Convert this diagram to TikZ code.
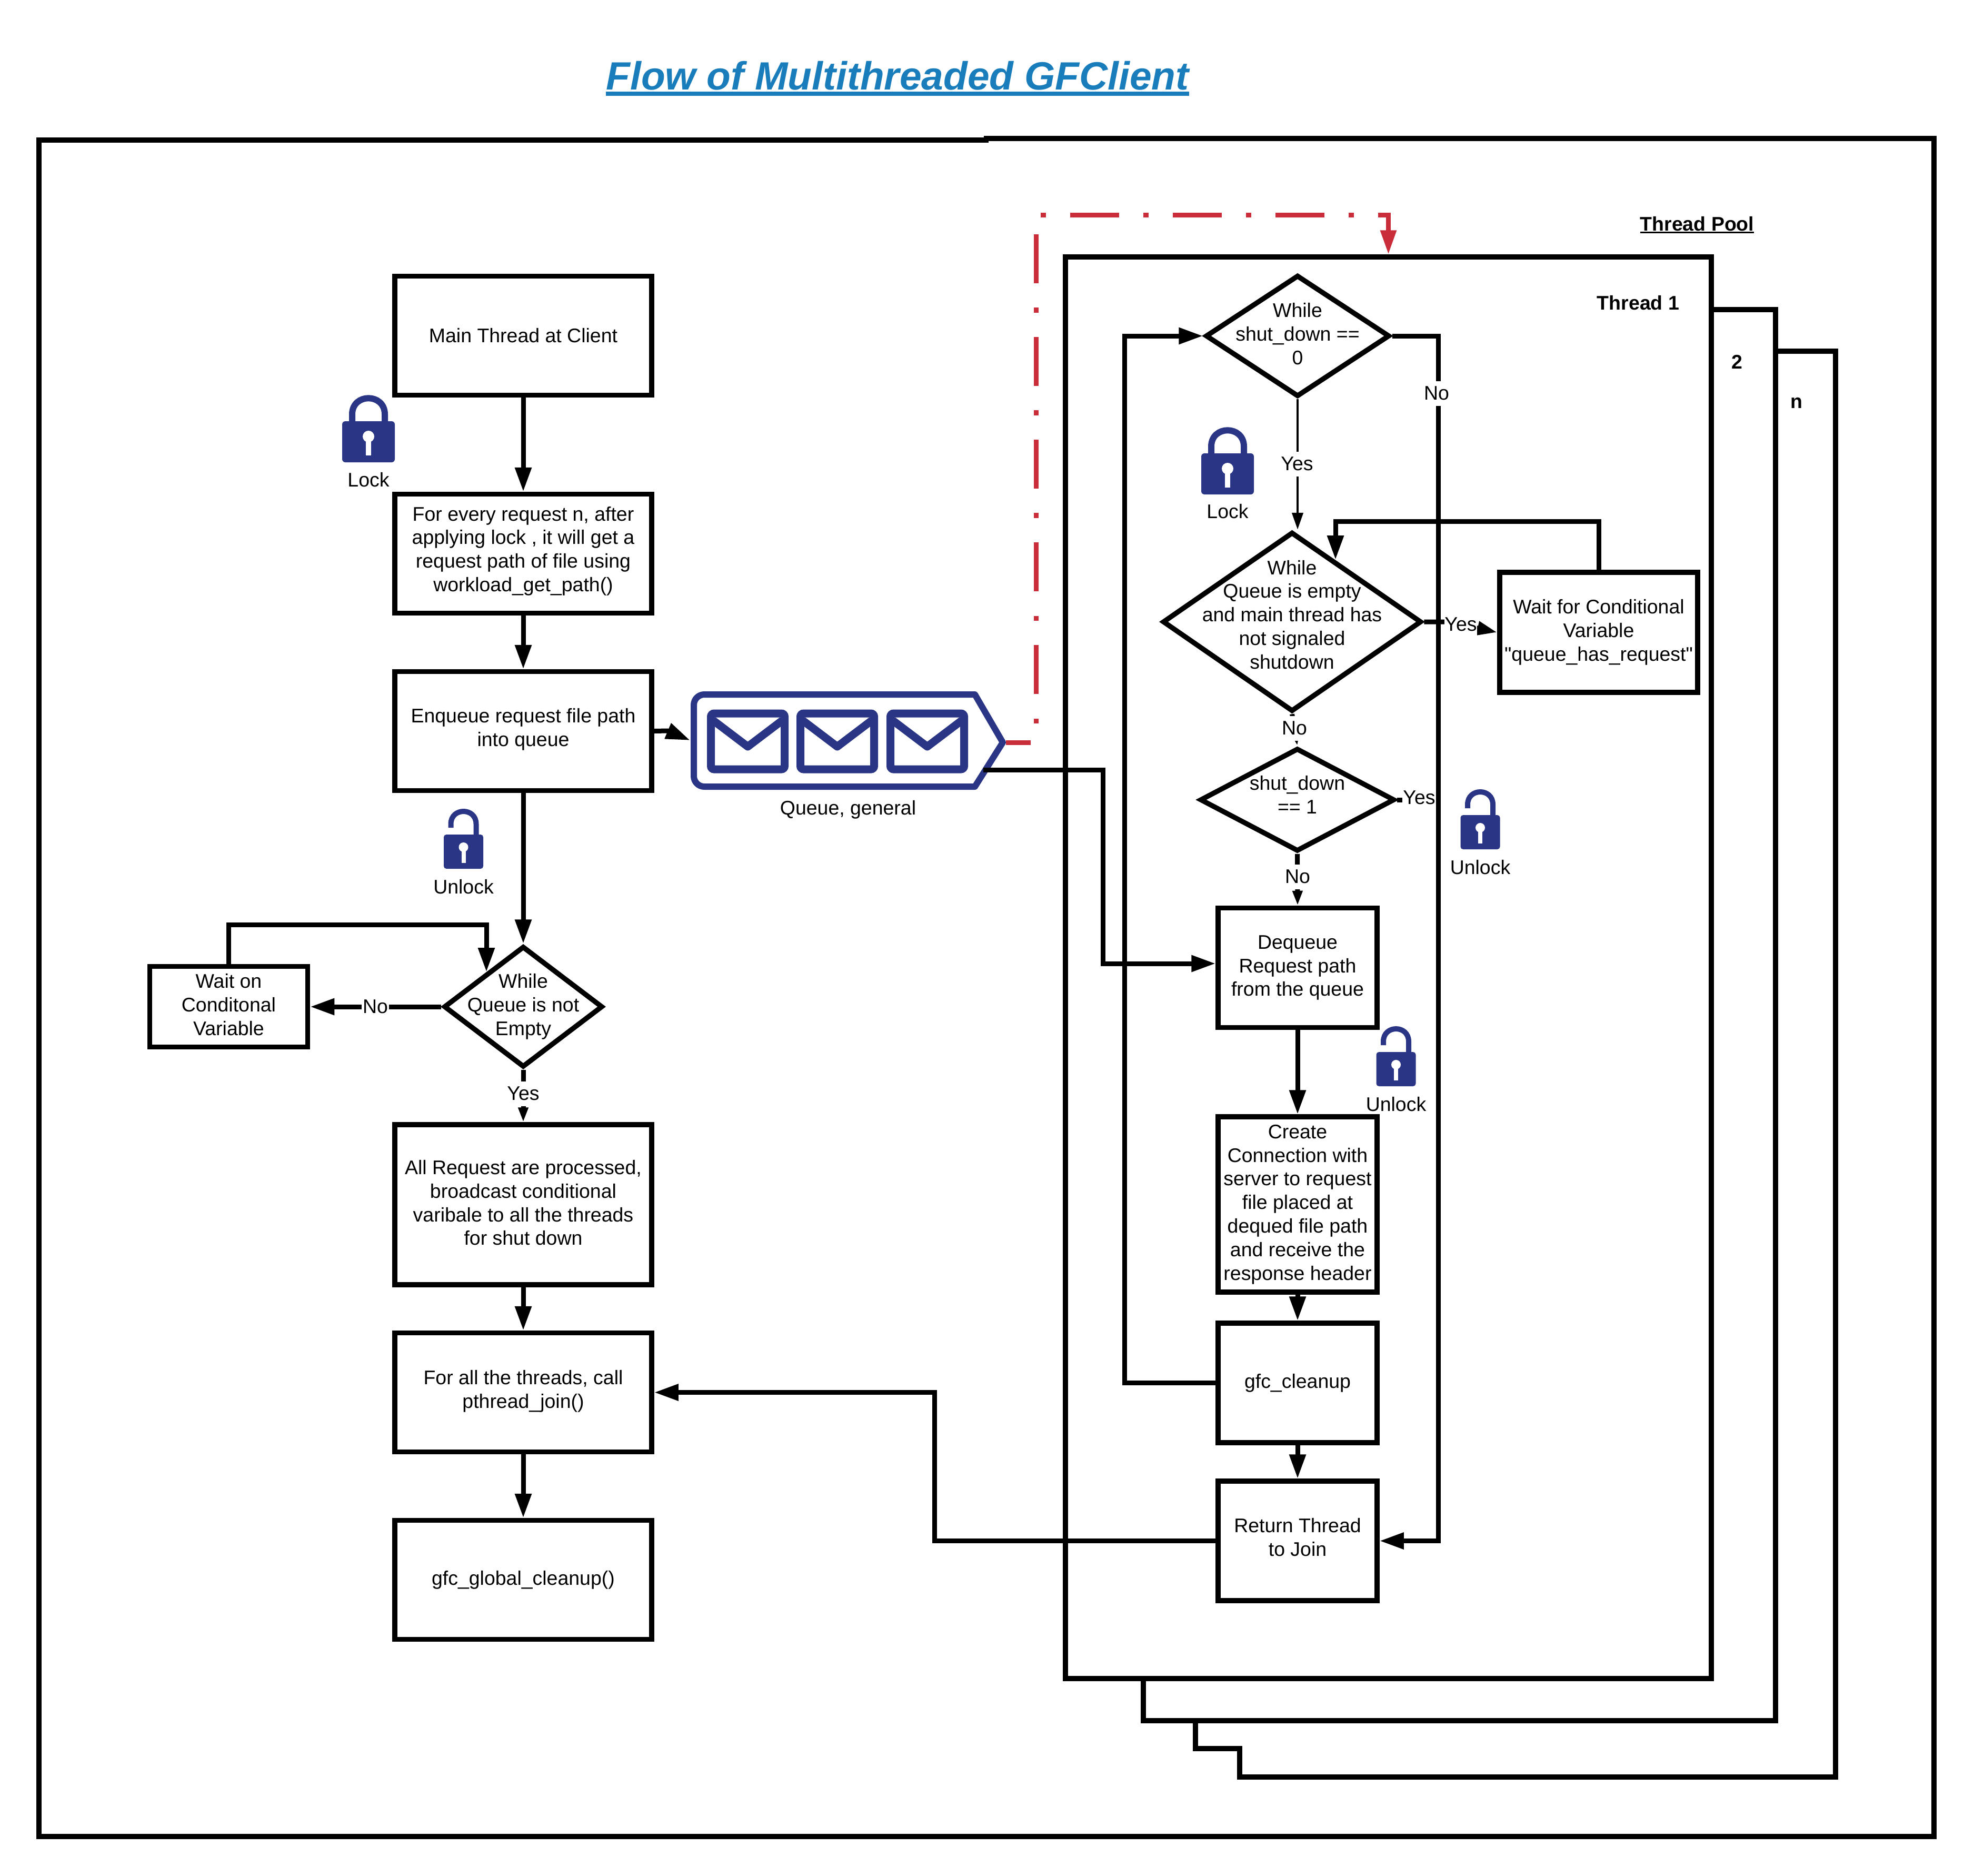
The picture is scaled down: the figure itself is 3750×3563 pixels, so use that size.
\documentclass[tikz,border=0pt]{standalone}
\usepackage{fontspec}
\setmainfont{Liberation Sans}[Ligatures=TeXOff]
\usetikzlibrary{arrows.meta,shapes.geometric}
\definecolor{titleblue}{HTML}{1A7DBB}
\definecolor{iconblue}{HTML}{2B3585}
\definecolor{flowred}{HTML}{C92D39}
\newcommand{\dmdtext}[2][0pt]{\makebox[0pt]{\raisebox{\dimexpr-.25em+#1\relax}[0pt][0pt]{\begin{tabular}{@{}c@{}}#2\end{tabular}}}}
\newcommand{\ulbox}[3]{\setbox0\hbox{#3}\rlap{\rule[-#1]{\wd0}{#2}}\box0}
\tikzset{
  procbox/.style 2 args={draw,rectangle,line width=4.75bp,inner sep=0pt,align=center,minimum width=#1*0.5bp,minimum height=#2*0.5bp},
  dmd/.style 2 args={draw,diamond,line width=4.75bp,inner sep=0pt,minimum width=#1*0.5bp,minimum height=#2*0.5bp},
  flowlbl/.style={fill=white,inner sep=0pt,minimum height=23.5bp,minimum width=26bp},
  plainlbl/.style={inner sep=0pt},
  conn/.style={line width=4.5bp},
  thinconn/.style={line width=2.25bp},
  bigarrow/.style={-{Triangle[length=23bp,width=15bp]}},
  midarrow/.style={-{Triangle[length=16bp,width=10.5bp]}},
  sidearrow/.style={-{Triangle[length=19bp,width=12.5bp]}},
  smallarrow/.style={-{Triangle[length=14bp,width=9bp]}},
  closedlock/.pic={
    \fill[iconblue,rounded corners=3bp] (-50,0) rectangle (50,78);
    \draw[iconblue,line width=6bp] (-31,2) -- (-31,-13) .. controls (-31,-54) and (31,-54) .. (31,-13) -- (31,2);
    \fill[white] (0,29) circle (5.5bp);
    \fill[white] (-5,29) rectangle (5,65);
  },
  openlock/.pic={
    \fill[iconblue,rounded corners=2.5bp] (-37.5,0) rectangle (37.5,65);
    \draw[iconblue,line width=5bp] (-24,-13) -- (-24,-20) .. controls (-24,-52) and (24,-52) .. (24,-20) -- (24,2);
    \fill[white] (0,24) circle (4.5bp);
    \fill[white] (-4,24) rectangle (4,54);
  }
}
\begin{document}
\begin{tikzpicture}[x=0.5bp,y=-0.5bp,every node/.append style={font=\fontsize{18.8}{22.5}\selectfont}]
\useasboundingbox (0,0) rectangle (3750,3563);
\node[plainlbl,text=titleblue,font=\fontsize{37.6}{44}\selectfont\bfseries\itshape] (title) at (1705,149) {\ulbox{6bp}{4bp}{Flow of Multithreaded GFClient}};
\draw[line width=4.75bp] (1878,266) -- (74,266) -- (74,3488) -- (3674,3488) -- (3674,263) -- (1869,263);
\draw[line width=4.75bp] (3251,588) -- (3373,588) -- (3373,3268) -- (2172,3268) -- (2172,3188);
\draw[line width=4.75bp] (3373,667) -- (3487,667) -- (3487,3375) -- (2355,3375) -- (2355,3321) -- (2271,3321) -- (2271,3268);
\node[procbox={1227}{2700}] (thrOne) at (2637.5,1838) {};
\node[plainlbl,font=\fontsize{18.8}{22.5}\selectfont\bfseries] (poolTxt) at (3224,427) {\ulbox{2.5bp}{1.5bp}{Thread Pool}};
\node[plainlbl,font=\fontsize{18.8}{22.5}\selectfont\bfseries] (thrOneTxt) at (3112,575) {Thread 1};
\node[plainlbl,font=\fontsize{18.8}{22.5}\selectfont\bfseries] (thrTwoTxt) at (3300,687) {2};
\node[plainlbl,font=\fontsize{18.8}{22.5}\selectfont\bfseries] (thrNTxt) at (3413,765) {n};

\node[procbox={488}{226}] (mainT) at (994,637.5) {Main Thread at Client};
\node[procbox={488}{226},text depth=8.7bp] (req) at (994,1051.5) {For every request n, after\\applying lock , it will get a\\request path of file using\\workload\_get\_path()};
\node[procbox={488}{226},text depth=7.5bp] (enq) at (994,1388.5) {Enqueue request file path\\into queue};
\node[dmd={302}{230}] (dl) at (994,1912) {\dmdtext{While\\Queue is not\\Empty}};
\node[procbox={300}{153},text depth=4bp] (waitCv) at (434.5,1912) {Wait on\\Conditonal\\Variable};
\node[procbox={488}{304},text depth=4bp] (done) at (994,2288) {All Request are processed,\\broadcast conditional\\varibale to all the threads\\for shut down};
\node[procbox={488}{226},text depth=6.2bp] (join) at (994,2644.5) {For all the threads, call\\pthread\_join()};
\node[procbox={488}{226}] (glob) at (994,3000.5) {gfc\_global\_cleanup()};

\node[dmd={350}{231}] (dOne) at (2465,638) {\dmdtext{While\\shut\_down ==\\0}};
\node[dmd={492}{341}] (dTwo) at (2454.5,1181) {\dmdtext[5bp]{While\\Queue is empty\\and main thread has\\not signaled\\shutdown}};
\node[dmd={370}{196}] (dThree) at (2464.5,1519) {\dmdtext[3bp]{shut\_down\\== 1}};
\node[procbox={376}{228}] (waitQ) at (3037,1201) {Wait for Conditional\\Variable\\"queue\_has\_request"};
\node[procbox={302}{227}] (deq) at (2465,1838) {Dequeue\\Request path\\from the queue};
\node[procbox={302}{333}] (conn) at (2465,2287.5) {Create\\Connection with\\server to request\\file placed at\\dequed file path\\and receive the\\response header};
\node[procbox={302}{227}] (clean) at (2465,2626.5) {gfc\_cleanup};
\node[procbox={302}{227},text depth=7bp] (ret) at (2465,2926.5) {Return Thread\\to Join};

\node[minimum width=299.5bp,minimum height=93.5bp,inner sep=0pt] (queue) at (1611.5,1406.5) {};
\draw[iconblue,line width=6bp,line join=round] (1905,1410) -- (1852,1319) [rounded corners=10bp] -- (1318,1319) -- (1318,1494) [sharp corners] -- (1852,1494) -- cycle;
\foreach \ex in {1420.5,1590.5,1761.5}{
  \draw[iconblue,line width=7.5bp,rounded corners=3bp] (\ex-70,1355) rectangle (\ex+70,1461);
  \draw[iconblue,line width=7.5bp,line join=round] (\ex-66,1368) -- (\ex,1418) -- (\ex+66,1368);
}
\node[plainlbl] (queueTxt) at (1611,1538) {Queue, general};
\coordinate (queueIn) at (1311,1406);
\coordinate (queueOut) at (1868,1462);

\pic at (700,800) {closedlock};
\node[plainlbl] (lockA) at (700,911) {Lock};
\pic at (2332,861) {closedlock};
\node[plainlbl] (lockB) at (2332,971) {Lock};
\pic at (880.5,1585) {openlock};
\node[plainlbl] (unlockA) at (880.5,1684) {Unlock};
\pic at (2812,1548) {openlock};
\node[plainlbl] (unlockB) at (2812,1647) {Unlock};
\pic at (2652,1998) {openlock};
\node[plainlbl] (unlockC) at (2652,2097) {Unlock};

\draw[flowred,line width=4.5bp,dash pattern=on 46.5bp off 23bp on 4.75bp off 23.25bp,dash phase=23bp] (1911,1410) -- (1968,1410) -- (1968,408) -- (2637.5,408) -- (2637.5,440);
\draw[flowred,line width=4.5bp,-{Triangle[length=23bp,width=14.5bp]}] (2637.5,436) -- (thrOne.north);

\draw[conn,bigarrow] (mainT) -- (req);
\draw[conn,bigarrow] (req) -- (enq);
\draw[conn,bigarrow] (enq.east) -- (1268,1388) -- (queueIn);
\draw[conn,bigarrow] (enq) -- (dl);
\draw[conn,bigarrow] (dl) -- (waitCv);
\coordinate (dlHit) at (924,1846);
\draw[conn,bigarrow] (waitCv.north) |- (924,1756) -- (dlHit);
\draw[conn,smallarrow] (dl) -- (done);
\draw[conn,bigarrow] (done) -- (join);
\draw[conn,bigarrow] (join) -- (glob);
\draw[conn,bigarrow] (ret.west) -- ++(-534,0) |- (join.east);
\draw[conn,bigarrow] (queueOut) -| (2095,1830) -- (deq.west |- 2095,1830);
\draw[conn,bigarrow] (dOne.east) -| (2732,2926.5) -- (ret.east);
\draw[thinconn,midarrow] (dOne.south) -- (dOne.south |- dTwo.north);
\coordinate (dTwoHit) at (2537,1063);
\draw[conn,bigarrow] (waitQ.north) |- (2537,990) -- (dTwoHit);
\draw[conn,sidearrow] (dTwo.east) -- ++(45,0) -- (waitQ.west);
\draw[conn,smallarrow] (dTwo.south) -- (dThree.north);
\draw[conn] (dThree.east) -- (2732,1519);
\draw[conn,smallarrow] (dThree.south) -- (deq.north);
\draw[conn,bigarrow] (deq) -- (conn);
\draw[conn,bigarrow] (conn) -- (clean);
\draw[conn,bigarrow] (clean) -- (ret);
\draw[conn,bigarrow] (clean.west) -- ++(-173,0) |- (dOne.west);

\node[flowlbl] (noA) at (713,1912) {No};
\node[flowlbl] (yesA) at (994,2077) {Yes};
\node[flowlbl] (noB) at (2729,747) {No};
\node[flowlbl] (yesB) at (2464,881) {Yes};
\node[flowlbl,minimum width=30bp] (yesC) at (2775,1186) {Yes};
\node[flowlbl] (noC) at (2459,1383) {No};
\node[flowlbl,minimum width=32bp] (yesD) at (2696,1515) {Yes};
\node[flowlbl] (noD) at (2465,1665) {No};
\end{tikzpicture}
\end{document}
